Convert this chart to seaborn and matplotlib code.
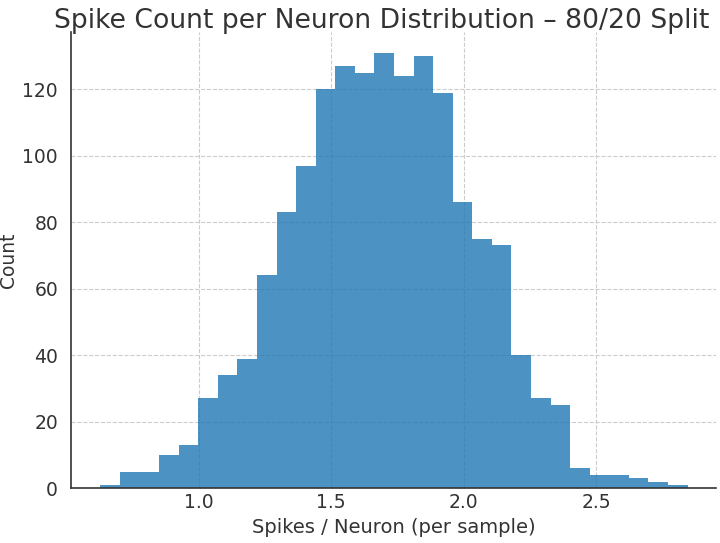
import matplotlib
matplotlib.use("Agg")

import matplotlib.pyplot as plt
import numpy as np
import pandas as pd
import seaborn as sns

# ─── DATA ────────────────────────────────────────────────────────
BIN_START = 0.630
BIN_END   = 2.844
COUNTS = [1, 5, 5, 10, 13, 27, 34, 39, 64, 83,
          97, 120, 127, 125, 131, 124, 130, 119, 86, 75,
          73, 40, 27, 25, 6, 4, 4, 3, 2, 1]

TITLE  = "Spike Count per Neuron Distribution – 80/20 Split"
XLABEL = "Spikes / Neuron (per sample)"
YLABEL = "Count"

FG = "#333333"

# ─── BUILD ───────────────────────────────────────────────────────
edges   = np.linspace(BIN_START, BIN_END, len(COUNTS) + 1)
centers = (edges[:-1] + edges[1:]) / 2
df = pd.DataFrame({"spikes": centers, "count": COUNTS})

sns.set_theme(style="whitegrid")
plt.rcParams.update({
    "font.family": ["DejaVu Sans"],
    "text.color": FG, "axes.labelcolor": FG,
    "xtick.color": FG, "ytick.color": FG,
})

fig, ax = plt.subplots(figsize=(7.2, 5.43), dpi=100)
sns.histplot(data=df, x="spikes", weights="count", bins=edges.tolist(),
             color="#1f77b4", alpha=0.8, edgecolor="none", linewidth=0, ax=ax)

ax.set_title(TITLE, fontsize=19.2, color=FG, pad=3, x=0.482)
ax.set_xlabel(XLABEL, fontsize=14)
ax.set_ylabel(YLABEL, fontsize=13.5, labelpad=3)
ax.tick_params(labelsize=13.5)
ax.set_xticks([1.0, 1.5, 2.0, 2.5])
ax.set_yticks(range(0, 121, 20))
ax.set_xlim(0.52, 2.95)
ax.set_ylim(0, 137.2)

ax.grid(True, linestyle="--", color="#cccccc", linewidth=0.8)
for side in ["top", "right"]:
    ax.spines[side].set_visible(False)
for side in ["left", "bottom"]:
    ax.spines[side].set_color(FG)
    ax.spines[side].set_linewidth(1.2)
ax.tick_params(axis="x", length=4, direction="in", color=FG)

fig.subplots_adjust(left=0.099, right=0.994, top=0.941, bottom=0.101)
fig.savefig("out.png", dpi=100)
